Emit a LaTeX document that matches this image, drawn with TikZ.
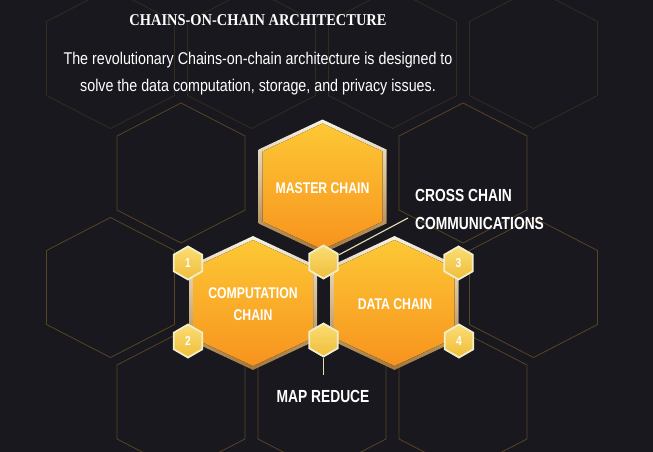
\documentclass[tikz,border=0pt]{standalone}
\usepackage{fontspec}
\usepackage{tikz}
\usetikzlibrary{shapes.geometric}
\setmainfont{Liberation Sans}
\newfontfamily\condfont[FakeStretch=0.79]{Liberation Sans}
\newfontfamily\headfont[FakeStretch=0.875]{Liberation Serif}
\newfontfamily\bodyfont[FakeStretch=0.84]{Liberation Sans}

\definecolor{pageBg}{RGB}{24,24,30}
\definecolor{gridLine}{RGB}{88,68,34}
\definecolor{gridDim}{RGB}{52,44,32}
\definecolor{rimTop}{RGB}{246,241,228}
\definecolor{rimMid}{RGB}{210,184,142}
\definecolor{rimBot}{RGB}{160,118,60}
\definecolor{honeyTop}{RGB}{253,200,53}
\definecolor{honeyBot}{RGB}{247,147,30}
\definecolor{cellTop}{RGB}{250,222,115}
\definecolor{cellBot}{RGB}{240,188,58}
\definecolor{cellRim}{RGB}{240,238,205}
\definecolor{wireCol}{RGB}{232,224,176}

\tikzset{
  gridhex/.style={draw=gridLine, line width=0.8pt},
  hexrim/.style={top color=rimTop, bottom color=rimBot, middle color=rimMid},
  hexbody/.style={top color=honeyTop, bottom color=honeyBot},
  cell/.style={regular polygon, regular polygon sides=6, shape border rotate=30,
    minimum size=33pt, inner sep=0pt, draw=cellRim, line width=1.8pt,
    top color=cellTop, bottom color=cellBot, text=white,
    font=\condfont\bfseries\fontsize{13}{15}\selectfont},
  chainlabel/.style={text=white, align=center, inner sep=0pt,
    font=\condfont\bfseries\fontsize{15.5}{21.7}\selectfont},
  calllabel/.style={text=white, inner sep=0pt,
    font=\condfont\bfseries\fontsize{17.5}{20}\selectfont},
  wire/.style={draw=wireCol, line width=1.1pt},
}

\begin{document}
\begin{tikzpicture}[x=1pt,y=-1pt]
\useasboundingbox (0,0) rectangle (653,452);
\fill[pageBg] (0,0) rectangle (653,452); % Page

% faint honeycomb behind
\draw[gridhex, draw=gridDim] (110.5,58.5) ++(0,-70) -- ++(64,33) -- ++(0,74) -- ++(-64,33) -- ++(-64,-33) -- ++(0,-74) -- cycle; % Grid.0
\draw[gridhex, draw=gridDim] (251.5,58.5) ++(0,-70) -- ++(64,33) -- ++(0,74) -- ++(-64,33) -- ++(-64,-33) -- ++(0,-74) -- cycle; % Grid.1
\draw[gridhex, draw=gridDim] (392.5,58.5) ++(0,-70) -- ++(64,33) -- ++(0,74) -- ++(-64,33) -- ++(-64,-33) -- ++(0,-74) -- cycle; % Grid.2
\draw[gridhex, draw=gridDim] (533.5,58.5) ++(0,-70) -- ++(64,33) -- ++(0,74) -- ++(-64,33) -- ++(-64,-33) -- ++(0,-74) -- cycle; % Grid.3
\draw[gridhex] (181,173) ++(0,-70) -- ++(64,33) -- ++(0,74) -- ++(-64,33) -- ++(-64,-33) -- ++(0,-74) -- cycle; % Grid.4
\draw[gridhex] (463,173) ++(0,-70) -- ++(64,33) -- ++(0,74) -- ++(-64,33) -- ++(-64,-33) -- ++(0,-74) -- cycle; % Grid.5
\draw[gridhex] (110.5,287.5) ++(0,-70) -- ++(64,33) -- ++(0,74) -- ++(-64,33) -- ++(-64,-33) -- ++(0,-74) -- cycle; % Grid.6
\draw[gridhex] (533.5,287.5) ++(0,-70) -- ++(64,33) -- ++(0,74) -- ++(-64,33) -- ++(-64,-33) -- ++(0,-74) -- cycle; % Grid.7
\draw[gridhex] (181,402) ++(0,-70) -- ++(64,33) -- ++(0,74) -- ++(-64,33) -- ++(-64,-33) -- ++(0,-74) -- cycle; % Grid.8
\draw[gridhex] (322,402) ++(0,-70) -- ++(64,33) -- ++(0,74) -- ++(-64,33) -- ++(-64,-33) -- ++(0,-74) -- cycle; % Grid.9
\draw[gridhex] (463,402) ++(0,-70) -- ++(64,33) -- ++(0,74) -- ++(-64,33) -- ++(-64,-33) -- ++(0,-74) -- cycle; % Grid.10

% heading
\node[anchor=base, text=white, inner sep=0pt, font=\headfont\bfseries\fontsize{16.5}{18}\selectfont] (title) at (258,25.5) {CHAINS-ON-CHAIN ARCHITECTURE};
\node[anchor=base, text=white, inner sep=0pt, font=\bodyfont\fontsize{17}{20}\selectfont] (subA) at (258,65) {The revolutionary Chains-on-chain architecture is designed to};
\node[anchor=base, text=white, inner sep=0pt, font=\bodyfont\fontsize{17}{20}\selectfont] (subB) at (258,91.5) {solve the data computation, storage, and privacy issues.};

% main chains
\fill[hexrim] (322.5,186.5) ++(0,-67) -- ++(64,30) -- ++(0,74) -- ++(-64,30) -- ++(-64,-30) -- ++(0,-74) -- cycle; % Master.rim
\fill[hexbody] (322.5,186.5) ++(0,-63) -- ++(60,28) -- ++(0,70) -- ++(-60,28) -- ++(-60,-28) -- ++(0,-70) -- cycle; % Master.body
\fill[hexrim] (253,303) ++(0,-67) -- ++(64,30) -- ++(0,74) -- ++(-64,30) -- ++(-64,-30) -- ++(0,-74) -- cycle; % Comp.rim
\fill[hexbody] (253,303) ++(0,-63) -- ++(60,28) -- ++(0,70) -- ++(-60,28) -- ++(-60,-28) -- ++(0,-70) -- cycle; % Comp.body
\fill[hexrim] (394.5,303) ++(0,-67) -- ++(64,30) -- ++(0,74) -- ++(-64,30) -- ++(-64,-30) -- ++(0,-74) -- cycle; % Data.rim
\fill[hexbody] (394.5,303) ++(0,-63) -- ++(60,28) -- ++(0,70) -- ++(-60,28) -- ++(-60,-28) -- ++(0,-70) -- cycle; % Data.body

\node[chainlabel] (lbMaster) at (322.5,188.5) {MASTER CHAIN};
\node[chainlabel] (lbComp) at (253,304.5) {COMPUTATION\\CHAIN};
\node[chainlabel] (lbData) at (395,304) {DATA CHAIN};

% small cells
\node[cell] (hx1) at (188,263) {1};
\node[cell] (hx2) at (188,341) {2};
\node[cell] (hx3) at (458.5,263) {3};
\node[cell] (hx4) at (459,341) {4};
\node[cell] (hxTop) at (323.5,262) {};
\node[cell] (hxBot) at (323.5,340) {};

% callouts
\node[calllabel, anchor=west] (lbCrossA) at (415,195) {CROSS CHAIN};
\node[calllabel, anchor=west] (lbCrossB) at (415,223) {COMMUNICATIONS};
\node[calllabel] (lbMap) at (323,396.5) {MAP REDUCE};
\coordinate (crossEnd) at (408,218);
\coordinate (mapEnd) at (323.5,375);
\draw[wire] (hxTop.25) -- (crossEnd); % cross chain
\draw[wire] (hxBot.south) -- (mapEnd); % map reduce

\end{tikzpicture}
\end{document}
